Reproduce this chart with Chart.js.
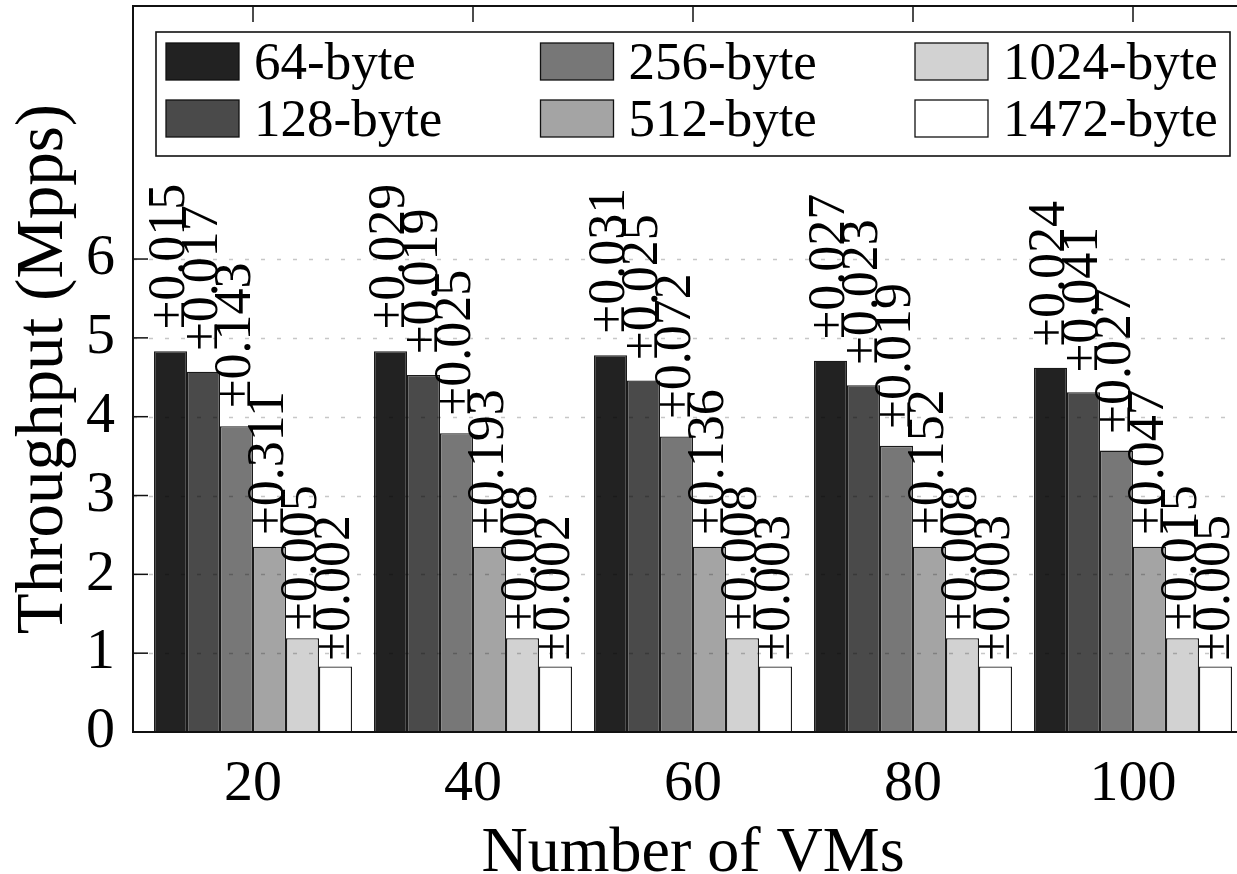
<!DOCTYPE html>
<html>
<head>
<meta charset="utf-8">
<title>Throughput vs Number of VMs</title>
<script src="https://cdn.jsdelivr.net/npm/chart.js@4.4.1/dist/chart.umd.min.js"></script>
<style>
  html, body { margin: 0; padding: 0; background: #fff; overflow: hidden; }
  #wrap { width: 1237px; height: 874px; overflow: hidden; }
</style>
</head>
<body>
<div id="wrap"><canvas id="vmChart" width="1270" height="874"></canvas></div>
<script>
const vmCounts = [20, 40, 60, 80, 100];
const packetSizes = ['64-byte', '128-byte', '256-byte', '512-byte', '1024-byte', '1472-byte'];
const yTicks = [0, 1, 2, 3, 4, 5, 6];

// throughput in Mpps, one array per packet size
const tp64 = [4.83, 4.83, 4.78, 4.71, 4.62];
const tp128 = [4.57, 4.53, 4.46, 4.40, 4.31];
const tp256 = [3.88, 3.79, 3.75, 3.63, 3.57];
const tp512 = [2.35, 2.35, 2.35, 2.35, 2.35];
const tp1024 = [1.19, 1.19, 1.19, 1.19, 1.19];
const tp1472 = [0.83, 0.83, 0.83, 0.83, 0.83];

// +/- values printed above the bars
const err64 = [0.015, 0.029, 0.031, 0.027, 0.024];
const err128 = [0.017, 0.019, 0.025, 0.023, 0.041];
const err256 = [0.143, 0.025, 0.072, 0.019, 0.027];
const err512 = [0.311, 0.193, 0.136, 0.152, 0.047];
const err1024 = [0.005, 0.008, 0.008, 0.008, 0.015];
const err1472 = [0.002, 0.002, 0.003, 0.003, 0.005];

const series = [tp64, tp128, tp256, tp512, tp1024, tp1472];
const errors = [err64, err128, err256, err512, err1024, err1472];
const fills = ['#222222', '#4a4a4a', '#777777', '#a4a4a4', '#d2d2d2', '#ffffff'];

const SERIF = '"Liberation Serif", "Times New Roman", serif';

document.addEventListener('DOMContentLoaded', function () {
    const ctx = document.getElementById('vmChart').getContext('2d');

    function line(c, x1, y1, x2, y2) {
        c.beginPath();
        c.moveTo(x1, y1);
        c.lineTo(x2, y2);
        c.stroke();
    }

    const frameAndLabels = {
        id: 'frameAndLabels',
        afterDatasetsDraw(chart) {
            const c = chart.ctx;
            const a = chart.chartArea;
            const x = chart.scales.x, y = chart.scales.y;
            c.save();

            // dashed grid sits on top of the bars
            c.strokeStyle = 'rgba(0,0,0,0.22)';
            c.lineWidth = 1.3;
            c.setLineDash([4, 12]);
            yTicks.forEach(t => {
                if (t === 0) return;
                const py = Math.round(y.getPixelForValue(t)) + 0.5;
                line(c, a.left, py, a.right, py);
            });
            c.setLineDash([]);

            c.strokeStyle = '#111';
            c.lineWidth = 2;
            c.strokeRect(a.left, a.top, a.right - a.left, a.bottom - a.top);
            c.lineWidth = 1.5;
            yTicks.forEach(t => {
                const py = y.getPixelForValue(t);
                line(c, a.left, py, a.left + 15, py);
                line(c, a.right, py, a.right - 15, py);
            });
            vmCounts.forEach(v => {
                const px = x.getPixelForValue(v);
                line(c, px, a.top, px, a.top + 16);
            });

            // rotated +/- labels
            c.font = '52px ' + SERIF;
            c.fillStyle = '#000';
            c.textAlign = 'left';
            c.textBaseline = 'middle';
            chart.data.datasets.forEach((ds, i) => {
                chart.getDatasetMeta(i).data.forEach((bar, j) => {
                    const v = ds.data[j].y;
                    const py = y.getPixelForValue(v * 1.051) - 2.6;
                    c.save();
                    c.translate(bar.x, py);
                    c.rotate(-Math.PI / 2);
                    c.fillText('\u00b1' + errors[i][j].toFixed(3), 0, 0);
                    c.restore();
                });
            });
            c.restore();
        },
        afterDraw(chart) {
            const c = chart.ctx;
            const a = chart.chartArea;
            const boxL = a.left + 23, boxT = a.top + 26;
            const boxW = (a.right - 23) - boxL, boxH = 124;
            c.save();
            c.fillStyle = '#fff';
            c.fillRect(boxL, boxT, boxW, boxH);
            c.strokeStyle = '#111';
            c.lineWidth = 1.6;
            c.strokeRect(boxL, boxT, boxW, boxH);

            c.font = '53px ' + SERIF;
            c.textAlign = 'left';
            c.textBaseline = 'alphabetic';
            packetSizes.forEach((name, i) => {
                const col = Math.floor(i / 2), row = i % 2;
                const sx = boxL + 10 + col * 374.5;
                const sy = boxT + 11 + row * 57;
                c.fillStyle = fills[i];
                c.fillRect(sx, sy, 73, 37);
                c.lineWidth = 1.3;
                c.strokeRect(sx, sy, 73, 37);
                c.fillStyle = '#000';
                c.fillText(name, sx + 88, sy + 36);
            });
            c.restore();
        }
    };

    new Chart(ctx, {
        type: 'bar',
        data: {
            datasets: series.map((vals, i) => ({
                label: packetSizes[i],
                data: vals.map((v, j) => ({ x: vmCounts[j], y: v })),
                backgroundColor: fills[i],
                borderColor: '#1a1a1a',
                borderWidth: 1.3,
                categoryPercentage: 0.9,
                barPercentage: 1.0
            }))
        },
        options: {
            responsive: false,
            animation: false,
            devicePixelRatio: 1,
            layout: { padding: { top: 6, right: 17, left: 0, bottom: 0 } },
            plugins: {
                legend: { display: false },
                tooltip: { enabled: false }
            },
            scales: {
                x: {
                    type: 'linear',
                    offset: false,
                    min: 20 - 120 / 11,
                    max: 100 + 120 / 11,
                    grid: { display: false, offset: false },
                    border: { display: false },
                    afterBuildTicks: scale => { scale.ticks = vmCounts.map(v => ({ value: v })); },
                    afterFit: scale => {
                        scale.height = 142;
                        scale.paddingLeft = 0;
                        scale.paddingRight = 0;
                    },
                    ticks: {
                        autoSkip: false,
                        maxRotation: 0,
                        padding: 10,
                        color: '#000',
                        font: { family: SERIF, size: 58 }
                    },
                    title: {
                        display: true,
                        text: 'Number of VMs',
                        color: '#000',
                        padding: { top: 0, bottom: 1 },
                        font: { family: SERIF, size: 64, lineHeight: 0.6 }
                    }
                },
                y: {
                    min: 0,
                    max: 9.21,
                    grid: { display: false },
                    border: { display: false },
                    afterBuildTicks: scale => { scale.ticks = yTicks.map(v => ({ value: v })); },
                    afterFit: scale => {
                        scale.width = 133;
                        scale.paddingTop = 0;
                        scale.paddingBottom = 0;
                    },
                    ticks: {
                        autoSkip: false,
                        padding: 10,
                        color: '#000',
                        font: { family: SERIF, size: 58 }
                    },
                    title: {
                        display: true,
                        text: 'Throughput (Mpps)',
                        color: '#000',
                        padding: { top: 4, bottom: 0 },
                        font: { family: SERIF, size: 67 }
                    }
                }
            }
        },
        plugins: [frameAndLabels]
    });
});
</script>
</body>
</html>
